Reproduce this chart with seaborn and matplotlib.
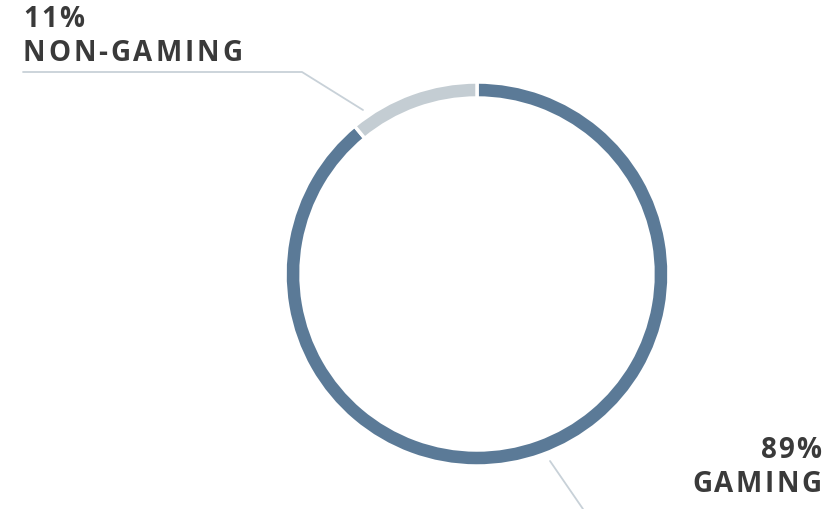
import matplotlib
matplotlib.use('Agg')
import matplotlib.pyplot as plt
import seaborn as sns

sns.set_theme(style='white')
plt.rcParams['font.family'] = ['Open Sans', 'DejaVu Sans']

# data
labels = ['GAMING', 'NON-GAMING']
shares = [89, 11]
colors = ['#5b7a97', '#c4cdd3']

W, H = 823, 509
fig = plt.figure(figsize=(W / 100, H / 100), dpi=100)
ax = fig.add_axes([0, 0, 1, 1])
ax.set_xlim(0, W)
ax.set_ylim(0, H)
ax.set_aspect('equal')
ax.axis('off')

ax.pie(shares, colors=colors, startangle=90, counterclock=False,
       center=(477, 235), radius=192,
       wedgeprops=dict(width=16, edgecolor='white', linewidth=2.5))
ax.set_xlim(0, W)
ax.set_ylim(0, H)

# leader lines
line_c = '#c8d1d8'
ax.plot([23, 302, 363], [437, 437, 399], color=line_c, lw=1.3)
ax.plot([550, 583], [48, 0], color=line_c, lw=1.3)

renderer = fig.canvas.get_renderer()
txt_c = '#3a3a3a'


def spaced(x0, x1, y, s, size=20):
    # draw characters one by one so the word spans x0..x1 (letter spacing)
    parts = []
    widths = []
    for ch in s:
        t = ax.text(0, y, ch, fontsize=size, fontweight='bold', color=txt_c,
                    va='baseline', ha='left')
        bb = t.get_window_extent(renderer)
        parts.append(t)
        widths.append(bb.width)
    gap = (x1 - x0 - sum(widths)) / max(len(s) - 1, 1)
    x = x0
    for t, w in zip(parts, widths):
        t.set_x(x)
        x += w + gap


spaced(23, 84, 482, f'{shares[1]}%')
spaced(23, 242, 448, labels[1])
spaced(761, 821, 51, f'{shares[0]}%')
spaced(692, 821, 17, labels[0])

fig.savefig('out.png', dpi=100)
